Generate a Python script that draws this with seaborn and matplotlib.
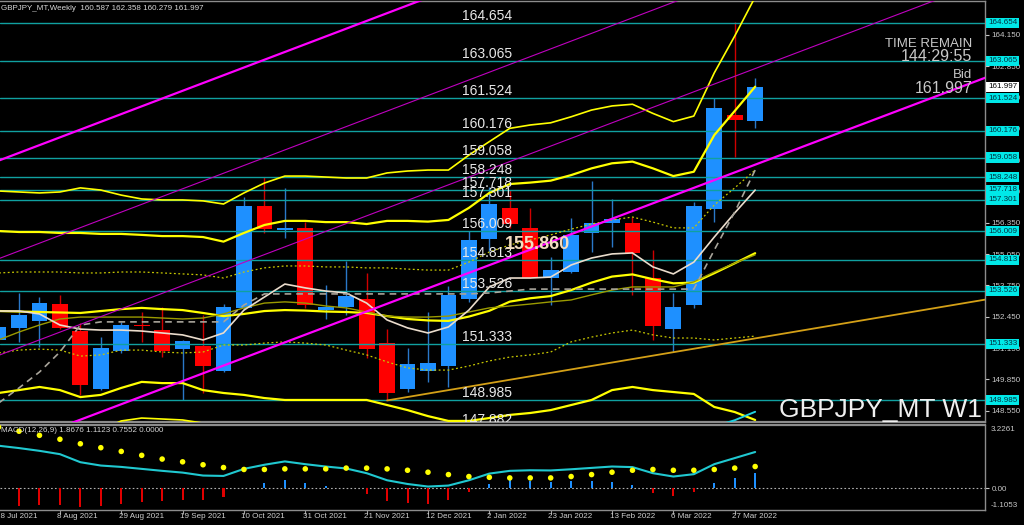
import numpy as np
import pandas as pd
import matplotlib
matplotlib.use('Agg')
import matplotlib.pyplot as plt
import matplotlib.transforms as mtransforms
import seaborn as sns

# weekly GBPJPY bars, bar 0 = week of 18 Jul 2021, bar 37 = week of 3 Apr 2022
opens = [151.49, 151.97, 152.29, 152.98, 151.87, 149.47, 151.02, 152.09, 151.90, 151.13,
         151.25, 150.21, 152.80, 157.05, 156.04, 156.12, 152.73, 152.85, 153.19, 151.35,
         149.44, 150.21, 150.43, 153.18, 155.68, 156.98, 156.12, 154.05, 154.32, 155.94,
         156.33, 156.36, 154.05, 151.93, 152.94, 156.91, 160.82, 160.587]
highs = [152.24, 153.45, 153.28, 153.36, 152.19, 151.63, 152.25, 152.66, 152.87, 151.49,
         152.53, 152.97, 157.43, 158.24, 157.78, 156.40, 153.77, 154.78, 154.26, 151.94,
         151.14, 152.66, 153.73, 156.02, 157.82, 157.71, 156.95, 154.94, 156.54, 158.09,
         157.33, 156.60, 155.22, 153.43, 157.23, 161.54, 164.70, 162.358]
lows = [151.28, 151.42, 151.21, 151.94, 149.21, 149.41, 150.94, 151.42, 150.80, 149.00,
        149.28, 150.17, 152.73, 155.94, 155.71, 152.80, 152.35, 152.53, 150.73, 149.00,
        149.34, 149.76, 149.54, 153.08, 155.15, 156.14, 154.05, 152.94, 154.28, 155.15,
        155.33, 153.36, 151.49, 151.00, 152.80, 156.40, 159.09, 160.279]
closes = [152.04, 152.53, 153.04, 151.97, 149.61, 151.14, 152.12, 152.05, 151.02, 151.45,
          150.42, 152.85, 157.06, 156.09, 156.12, 152.94, 152.87, 153.33, 151.10, 149.30,
          150.49, 150.55, 153.36, 155.64, 157.13, 156.29, 154.07, 154.39, 155.85, 156.36,
          156.51, 155.09, 152.07, 152.87, 157.06, 161.13, 160.62, 161.997]

# bollinger style bands (yellow)
band_up3 = [157.67, 157.63, 157.59, 157.63, 157.80, 157.71, 157.50, 157.34, 157.30, 157.30,
            157.26, 157.13, 157.59, 158.00, 158.29, 158.29, 158.25, 158.21, 158.21, 158.42,
            158.50, 158.54, 158.54, 159.16, 159.72, 160.27, 160.41, 160.50, 160.75, 161.03,
            161.20, 161.27, 160.89, 160.55, 160.78, 162.57, 164.10, 165.72]
band_up2 = [156.01, 155.97, 155.97, 155.93, 155.93, 155.89, 155.89, 155.85, 155.80, 155.80,
            155.76, 155.57, 155.93, 156.26, 156.43, 156.43, 156.38, 156.38, 156.30, 156.43,
            156.43, 156.40, 156.47, 156.97, 157.59, 157.96, 158.02, 158.10, 158.33, 158.61,
            158.82, 158.89, 158.61, 158.29, 158.47, 159.99, 160.99, 162.00]
band_up1 = [154.27, 154.31, 154.31, 154.31, 154.27, 154.27, 154.31, 154.31, 154.27, 154.23,
            154.19, 154.06, 154.31, 154.48, 154.56, 154.56, 154.52, 154.52, 154.48, 154.48,
            154.43, 154.39, 154.39, 154.72, 155.14, 155.43, 155.64, 155.85, 156.09, 156.30,
            156.47, 156.59, 156.38, 156.14, 156.14, 157.09, 157.80, 158.54]
band_mid = [152.69, 152.67, 152.65, 152.63, 152.61, 152.69, 152.77, 152.82, 152.77, 152.73,
            152.61, 152.48, 152.57, 152.69, 152.73, 152.71, 152.67, 152.65, 152.61, 152.48,
            152.36, 152.30, 152.28, 152.46, 152.70, 153.08, 153.22, 153.31, 153.56, 153.87,
            154.12, 154.21, 154.01, 153.84, 153.87, 154.26, 154.67, 155.09]
band_lo1 = [150.95, 151.07, 151.11, 151.07, 150.82, 150.87, 151.07, 151.07, 150.99, 150.95,
            150.99, 151.28, 151.28, 151.36, 151.41, 151.36, 151.28, 151.07, 150.87, 150.58,
            150.33, 150.24, 150.24, 150.41, 150.62, 150.78, 150.87, 150.99, 151.41, 151.61,
            151.78, 151.90, 151.70, 151.57, 151.57, 151.49, 151.57, 151.65]
band_lo2 = [149.29, 149.41, 149.54, 149.41, 149.12, 149.21, 149.50, 149.75, 149.70, 149.70,
            149.41, 149.29, 149.21, 149.08, 149.00, 149.00, 149.00, 149.00, 149.00, 148.79,
            148.58, 148.33, 148.13, 148.13, 148.25, 148.38, 148.46, 148.58, 148.79, 149.00,
            149.41, 149.54, 149.41, 149.33, 149.25, 148.71, 148.50, 148.17]
band_lo3 = [147.75, 147.84, 147.96, 147.92, 147.67, 147.75, 148.13, 148.25, 148.21, 148.17,
            148.04, 147.75, 147.63, 147.30, 147.13, 147.13, 147.17, 147.17, 147.17, 146.92,
            146.59, 146.34, 146.05, 145.76, 145.80, 146.01, 146.09, 146.22, 146.51, 146.59,
            147.05, 147.21, 147.09, 147.13, 146.92, 145.89, 145.35, 144.64]

# moving averages
ma_fast = [152.69, 152.69, 152.57, 152.11, 151.94, 151.90, 151.90, 151.86, 151.78, 151.70,
           151.49, 151.78, 152.73, 153.27, 153.81, 153.65, 153.52, 153.44, 153.02, 152.32,
           151.99, 151.78, 152.03, 152.73, 153.69, 154.06, 154.06, 154.10, 154.60, 154.89,
           155.06, 155.10, 154.52, 154.23, 154.72, 155.76, 156.76, 157.71]
ma_slow = [151.49, 151.82, 152.11, 152.36, 152.44, 152.44, 152.44, 152.44, 152.40, 152.36,
           152.40, 152.57, 152.82, 153.02, 153.07, 153.02, 152.90, 152.82, 152.65, 152.48,
           152.44, 152.44, 152.48, 152.65, 152.82, 152.90, 152.98, 153.07, 153.15, 153.36,
           153.56, 153.69, 153.69, 153.69, 153.90, 154.31, 154.68, 155.02]
ma_step = [148.87, 149.50, 150.16, 150.99, 152.11, 152.24, 152.24, 152.24, 152.24, 152.24,
           152.24, 152.24, 152.94, 153.40, 153.40, 153.40, 153.40, 153.40, 153.40, 153.40,
           153.40, 153.40, 153.40, 153.40, 153.44, 153.52, 153.60, 153.60, 153.60, 153.60,
           153.60, 153.60, 153.60, 153.60, 153.60, 155.22, 156.80, 158.54]
cyan_tail_bars = [35, 36, 37]
cyan_tail = [147.90, 148.16, 148.51]

# MACD panel
macd_line = [2.17, 2.05, 1.91, 1.74, 1.33, 1.16, 1.09, 0.99, 0.89, 0.80,
             0.65, 0.63, 0.99, 1.20, 1.37, 1.23, 1.11, 1.01, 0.77, 0.41,
             0.22, 0.09, 0.14, 0.41, 0.75, 0.89, 0.92, 0.91, 0.97, 1.04,
             1.11, 1.08, 0.77, 0.60, 0.72, 1.23, 1.54, 1.85]
macd_signal = [3.12, 2.91, 2.70, 2.50, 2.27, 2.07, 1.88, 1.68, 1.49, 1.35,
               1.20, 1.06, 0.96, 0.96, 0.99, 0.99, 0.99, 1.03, 1.03, 0.99,
               0.92, 0.82, 0.70, 0.60, 0.56, 0.53, 0.53, 0.53, 0.60, 0.70,
               0.82, 0.92, 0.96, 0.92, 0.92, 0.96, 1.03, 1.11]
macd_hist = [-0.95, -0.91, -0.85, -0.85, -0.94, -0.92, -0.79, -0.68, -0.65, -0.60,
             -0.60, -0.46, 0.03, 0.29, 0.43, 0.27, 0.10, 0.02, -0.29, -0.63,
             -0.77, -0.82, -0.60, -0.19, 0.21, 0.46, 0.38, 0.32, 0.38, 0.38,
             0.32, 0.17, -0.22, -0.38, -0.17, 0.29, 0.53, 0.77]

# horizontal levels and drawn trend lines
levels = [164.654, 163.065, 161.524, 160.176, 159.058, 158.248, 157.718, 157.301,
          156.009, 154.813, 153.526, 151.333, 148.985, 147.882]
axis_ticks = [164.150, 162.850, 161.550, 160.250, 158.950, 157.650, 156.350,
              155.050, 153.750, 152.450, 151.150, 149.850, 148.550]
channel_start = [158.93, 154.86, 150.85, 146.90]
channel_end = [174.55, 170.50, 166.45, 162.45]
channel_bars = [0, 48.5]
support_bars = [19, 48.5]
support_prices = [148.98, 153.20]

date_bars = [0, 3, 6, 9, 12, 15, 18, 21, 24, 27, 30, 33, 36]
date_labels = ['18 Jul 2021', '8 Aug 2021', '29 Aug 2021', '19 Sep 2021', '10 Oct 2021',
               '31 Oct 2021', '21 Nov 2021', '12 Dec 2021', '2 Jan 2022', '23 Jan 2022',
               '13 Feb 2022', '6 Mar 2022', '27 Mar 2022']

df = pd.DataFrame({'bar': np.arange(len(opens)), 'open': opens, 'high': highs,
                   'low': lows, 'close': closes,
                   'up3': band_up3, 'up2': band_up2, 'up1': band_up1, 'mid': band_mid,
                   'lo1': band_lo1, 'lo2': band_lo2, 'lo3': band_lo3,
                   'fast': ma_fast, 'slow': ma_slow, 'step': ma_step,
                   'macd': macd_line, 'signal': macd_signal, 'hist': macd_hist})

sns.set_style('dark', {'axes.facecolor': 'black', 'figure.facecolor': 'black'})
plt.rcParams['font.family'] = ['Liberation Sans', 'DejaVu Sans']

fig = plt.figure(figsize=(10.24, 5.25), dpi=100)
fig.patch.set_facecolor('black')
ax = fig.add_axes([0, 103 / 525, 985 / 1024, 421 / 525])
axm = fig.add_axes([0, 15 / 525, 985 / 1024, 85 / 525])
for a in (ax, axm):
    a.set_facecolor('black')
    a.set_xlim(0.07, 48.24)
    a.grid(False)
    a.spines['left'].set_visible(False)
    for s in ('top', 'right', 'bottom'):
        a.spines[s].set_color('#8c8c8c')
        a.spines[s].set_linewidth(1)
ax.spines['bottom'].set_linewidth(1.6)
axm.spines['top'].set_linewidth(1.6)
ax.set_ylim(148.086, 165.554)
axm.set_ylim(-1.1053, 3.2261)

# candles
up = df['close'] >= df['open']
body_lo = df[['open', 'close']].min(axis=1)
body_h = (df['close'] - df['open']).abs().clip(lower=0.05)
for mask, body_col, wick_col in ((up, '#1e90ff', '#2a78c8'), (~up, '#ff0000', '#d00000')):
    ax.vlines(df['bar'][mask], df['low'][mask], df['high'][mask], color=wick_col, lw=1, zorder=2)
    ax.bar(df['bar'][mask], body_h[mask], bottom=body_lo[mask], width=0.77,
           color=body_col, edgecolor='none', linewidth=0, zorder=2.2)

# level lines and labels
trans_lv = mtransforms.blended_transform_factory(ax.transAxes, ax.transData)
for lv in levels:
    ax.axhline(lv, color='#10a0a0', lw=1, zorder=3)
    ax.annotate(f'{lv:.3f}', xy=(462 / 985, lv), xycoords=('axes fraction', 'data'),
                xytext=(0, 2.2), textcoords='offset points', ha='left', va='baseline',
                fontsize=10, color='#e8e8e8', zorder=8, clip_on=True, annotation_clip=False)
    if 148.086 < lv < 165.554:
        ax.text(1.0 + 3 / 985, lv, f'{lv:.3f}', transform=trans_lv, ha='left', va='center',
                fontsize=5.8, color='#003040', zorder=10, clip_on=False,
                bbox=dict(boxstyle='square,pad=0.2', fc='#00e8e8', ec='none'))
ax.text(1.0 + 3 / 985, closes[-1], f'{closes[-1]:.3f}', transform=trans_lv, ha='left',
        va='center', fontsize=5.8, color='#000000', zorder=10, clip_on=False,
        bbox=dict(boxstyle='square,pad=0.2', fc='#ffffff', ec='none'))

# channel and support lines
for k, (p0, p1) in enumerate(zip(channel_start, channel_end)):
    thick = k in (0, 3)
    sns.lineplot(x=channel_bars, y=[p0, p1], ax=ax, color='#ff00ff' if thick else '#c000c0',
                 lw=1.6 if thick else 0.8, zorder=6)
sns.lineplot(x=support_bars, y=support_prices, ax=ax, color='#d4a017', lw=1.3, zorder=6)

# bands and averages
sns.lineplot(data=df, x='bar', y='up3', ax=ax, color='#ffff00', lw=1.2, zorder=5)
sns.lineplot(data=df, x='bar', y='up2', ax=ax, color='#ffff00', lw=1.6, zorder=5)
sns.lineplot(data=df, x='bar', y='mid', ax=ax, color='#ffff00', lw=1.6, zorder=5)
sns.lineplot(data=df, x='bar', y='lo2', ax=ax, color='#ffff00', lw=1.6, zorder=5)
sns.lineplot(data=df, x='bar', y='lo3', ax=ax, color='#ffff00', lw=1.2, zorder=5)
sns.lineplot(data=df, x='bar', y='up1', ax=ax, color='#c8c800', lw=0.9, ls=(0, (1.5, 2)), zorder=5)
sns.lineplot(data=df, x='bar', y='lo1', ax=ax, color='#c8c800', lw=0.9, ls=(0, (1.5, 2)), zorder=5)
sns.lineplot(data=df, x='bar', y='slow', ax=ax, color='#9a9a00', lw=1, zorder=5)
sns.lineplot(data=df, x='bar', y='fast', ax=ax, color='#eadccc', lw=1.2, zorder=5)
sns.lineplot(data=df, x='bar', y='step', ax=ax, color='#a8a49a', lw=1.2, ls=(0, (4, 3)), zorder=5)
sns.lineplot(x=cyan_tail_bars, y=cyan_tail, ax=ax, color='#20d0e0', lw=1.4, zorder=5)

ax.set_xlabel('')
ax.set_ylabel('')
ax.set_xticks([])
ax.yaxis.tick_right()
ax.set_yticks(axis_ticks)
ax.set_yticklabels([f'{v:.3f}' for v in axis_ticks])
ax.tick_params(axis='y', right=True, left=False, colors='#c8c8c8', labelsize=5.8,
               length=3, width=0.8, pad=1.5, direction='out')

# text overlays
ax.text(24.77, 155.47, '155.860', fontsize=13, fontweight='bold', color='#f2dcc0',
        ha='left', va='center', zorder=9)
for txt, yb, fs in (('TIME REMAIN', 0.8915, 9.5), ('144:29:55', 0.8575, 11.5),
                    ('Bid', 0.8171, 9.5), ('161.997', 0.7815, 11.5)):
    ax.text(972 / 985, yb, txt, transform=ax.transAxes, ha='right', va='baseline',
            fontsize=fs, color='#c8c8c8', zorder=9)
ax.text(0.997, 0.012, 'GBPJPY_MT W1', transform=ax.transAxes, ha='right', va='baseline',
        fontsize=19, color='#f0f0f0', zorder=9)
fig.text(0.001, 1 - 8 / 525, 'GBPJPY_MT,Weekly  160.587 162.358 160.279 161.997',
         fontsize=5.8, color='#d8d8d8', va='center', ha='left')

# MACD panel
hist_cols = ['#1e90ff' if v > 0 else '#e00000' for v in macd_hist]
axm.axhline(0, color='#b0b0b0', lw=0.8, ls=(0, (1.5, 2)), zorder=2)
axm.bar(df['bar'], df['hist'], width=0.1, color=hist_cols, edgecolor='none',
        linewidth=0, zorder=3)
sns.lineplot(data=df, x='bar', y='macd', ax=axm, color='#20c8d0', lw=1.5, zorder=4)
sns.scatterplot(data=df, x='bar', y='signal', ax=axm, color='#ffff00', s=16,
                edgecolor='none', zorder=5)
axm.set_xlabel('')
axm.set_ylabel('')
axm.yaxis.tick_right()
axm.set_yticks([0])
axm.set_yticklabels(['0.00'])
axm.tick_params(axis='y', right=True, left=False, colors='#c8c8c8', labelsize=5.8,
                length=3, width=0.8, pad=1.5)
axm.text(991 / 985, 0.985, '3.2261', transform=axm.transAxes, ha='left', va='top',
         fontsize=5.8, color='#c8c8c8', clip_on=False)
axm.text(991 / 985, 0.015, '-1.1053', transform=axm.transAxes, ha='left', va='bottom',
         fontsize=5.8, color='#c8c8c8', clip_on=False)
fig.text(0.001, 1 - 431 / 525, 'MACD(12,26,9) 1.8676 1.1123 0.7552 0.0000',
         fontsize=5.8, color='#d8d8d8', va='center', ha='left')

axm.set_xticks(date_bars[1:])
axm.set_xticklabels([''] * (len(date_bars) - 1))
axm.tick_params(axis='x', bottom=True, colors='#a0a0a0', length=3, width=0.8)
trans_d = mtransforms.blended_transform_factory(axm.transData, axm.transAxes)
for b, lab in zip(date_bars, date_labels):
    axm.text(b - 0.12, -0.035, lab, transform=trans_d, ha='left', va='top',
             fontsize=5.8, color='#d0d0d0', clip_on=False)

fig.savefig('out.png', dpi=100, facecolor='black')
